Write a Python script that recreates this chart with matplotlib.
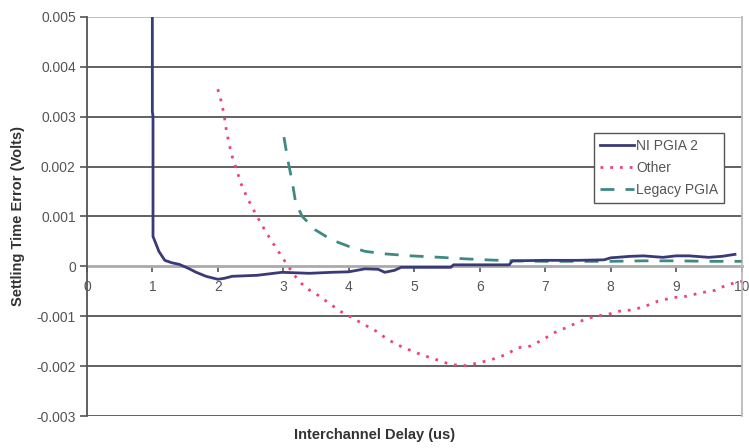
import matplotlib.pyplot as plt

plt.rcParams['font.family'] = ['Liberation Sans', 'DejaVu Sans']

# NI PGIA 2 (solid)
ni_x = [1.0, 1.0, 1.01, 1.01, 1.1, 1.19, 1.3, 1.41, 1.55, 1.67, 1.82, 2.0, 2.1, 2.22,
        2.6, 2.98, 3.4, 3.74, 4.0, 4.25, 4.45, 4.55, 4.7, 4.8, 5.2, 5.56, 5.6, 6.0,
        6.45, 6.5, 7.0, 7.5, 7.9, 8.0, 8.3, 8.5, 8.8, 9.0, 9.2, 9.5, 9.7, 9.9]
ni_y = [0.0052, 0.0031, 0.003, 0.0006, 0.0003, 0.00012, 0.00007, 0.00004, -0.00004,
        -0.00012, -0.0002, -0.00026, -0.00024, -0.0002, -0.00018, -0.00012, -0.00014,
        -0.00012, -0.00011, -0.00005, -0.00006, -0.00012, -0.00008, -0.00002, -0.00002,
        -0.00002, 0.00003, 0.00003, 0.00003, 0.00011, 0.00012, 0.00012, 0.00013, 0.00017,
        0.0002, 0.00021, 0.00018, 0.00021, 0.00021, 0.00018, 0.0002, 0.00024]

# Other (dotted)
other_x = [2.0, 2.06, 2.1, 2.13, 2.17, 2.22, 2.28, 2.35, 2.43, 2.53, 2.63, 2.73, 2.84,
           2.96, 3.06, 3.2, 3.34, 3.5, 3.69, 3.87, 4.05, 4.24, 4.42, 4.6, 4.79, 4.97,
           5.15, 5.34, 5.56, 5.78, 6.0, 6.18, 6.4, 6.59, 6.77, 6.95, 7.14, 7.32, 7.54,
           7.76, 7.94, 8.13, 8.35, 8.53, 8.72, 8.94, 9.16, 9.38, 9.6, 9.78, 10.0]
other_y = [0.00355, 0.00327, 0.003, 0.00273, 0.00247, 0.0022, 0.00197, 0.00167, 0.00143,
           0.00117, 0.00093, 0.0007, 0.00047, 0.00023, 0.00003, -0.00023, -0.00043,
           -0.00055, -0.00073, -0.0009, -0.00103, -0.00117, -0.0013, -0.00147, -0.0016,
           -0.0017, -0.00179, -0.00187, -0.00197, -0.00199, -0.00193, -0.00187, -0.00177,
           -0.00163, -0.0016, -0.00148, -0.00133, -0.00123, -0.0011, -0.001, -0.00097,
           -0.0009, -0.00087, -0.0008, -0.0007, -0.00063, -0.0006, -0.00053, -0.00048,
           -0.00037, -0.0003]

# Legacy PGIA (dashed)
legacy_x = [3.01, 3.07, 3.14, 3.19, 3.29, 3.49, 3.74, 4.0, 4.25, 4.55, 4.95, 5.4, 5.78,
            6.1, 6.5, 7.0, 7.5, 8.0, 8.5, 9.0, 9.5, 10.0]
legacy_y = [0.00259, 0.00213, 0.00167, 0.00127, 0.001, 0.00073, 0.00053, 0.0004, 0.0003,
            0.00025, 0.00021, 0.00018, 0.00015, 0.00013, 0.00011, 0.0001, 0.0001,
            0.0001, 0.00011, 0.00011, 0.0001, 0.0001]

x_ticks = list(range(0, 11))
y_ticks = [-0.003, -0.002, -0.001, 0, 0.001, 0.002, 0.003, 0.004, 0.005]
y_labels = ['-0.003', '-0.002', '-0.001', '0', '0.001', '0.002', '0.003', '0.004', '0.005']

fig = plt.figure(figsize=(7.49, 4.48), dpi=100)
ax = fig.add_axes([0.116, 0.0714, 0.874, 0.891])

# horizontal grid lines
for y in y_ticks:
    if y == 0 or y == 0.005:
        continue
    ax.axhline(y, color='#555555', lw=1.3, zorder=1)
ax.axhline(0.005, color='#bbbbbb', lw=1.3, zorder=1)

ax.plot(ni_x, ni_y, color='#3b3a78', lw=2, label='NI PGIA 2', zorder=4)
ax.plot(other_x, other_y, color='#e8467f', lw=2, linestyle=(0, (1, 2.5)), label='Other', zorder=3)
ax.plot(legacy_x, legacy_y, color='#3f8a80', lw=2, linestyle=(0, (5, 4)), label='Legacy PGIA', zorder=3)

ax.set_xlim(0, 10)
ax.set_ylim(-0.003, 0.005)

ax.spines['top'].set_visible(False)
ax.spines['right'].set_color('#bbbbbb')
ax.spines['right'].set_linewidth(1.3)
ax.spines['left'].set_color('#555555')
ax.spines['left'].set_linewidth(1.3)
ax.spines['bottom'].set_position(('data', 0))
ax.spines['bottom'].set_color('#aaaaaa')
ax.spines['bottom'].set_linewidth(2)
ax.spines['bottom'].set_zorder(2)

ax.set_xticks(x_ticks)
ax.set_xticklabels([str(v) for v in x_ticks])
ax.set_yticks(y_ticks)
ax.set_yticklabels(y_labels)
ax.tick_params(axis='x', direction='out', length=4, width=1.2, color='#555555',
               labelsize=10, labelcolor='#555555', pad=6)
ax.tick_params(axis='y', direction='out', length=5, width=1.2, color='#555555',
               labelsize=10, labelcolor='#555555', pad=3)

ax.set_ylabel('Settling Time Error (Volts)', fontsize=10.5, fontweight='bold', color='#333333', labelpad=8)
fig.text(0.5, 0.02, 'Interchannel Delay (us)', ha='center', fontsize=10.5, fontweight='bold', color='#333333')

leg = ax.legend(loc='upper left', bbox_to_anchor=(0.775, 0.709), fontsize=10, frameon=True,
                fancybox=False, borderpad=0.45, handlelength=2.4, handletextpad=0.15,
                labelspacing=0.55, borderaxespad=0)
leg.get_frame().set_edgecolor('#555555')
leg.get_frame().set_linewidth(1)
leg.get_frame().set_alpha(1)
for t in leg.get_texts():
    t.set_color('#555555')

fig.savefig('out.png', dpi=100)
